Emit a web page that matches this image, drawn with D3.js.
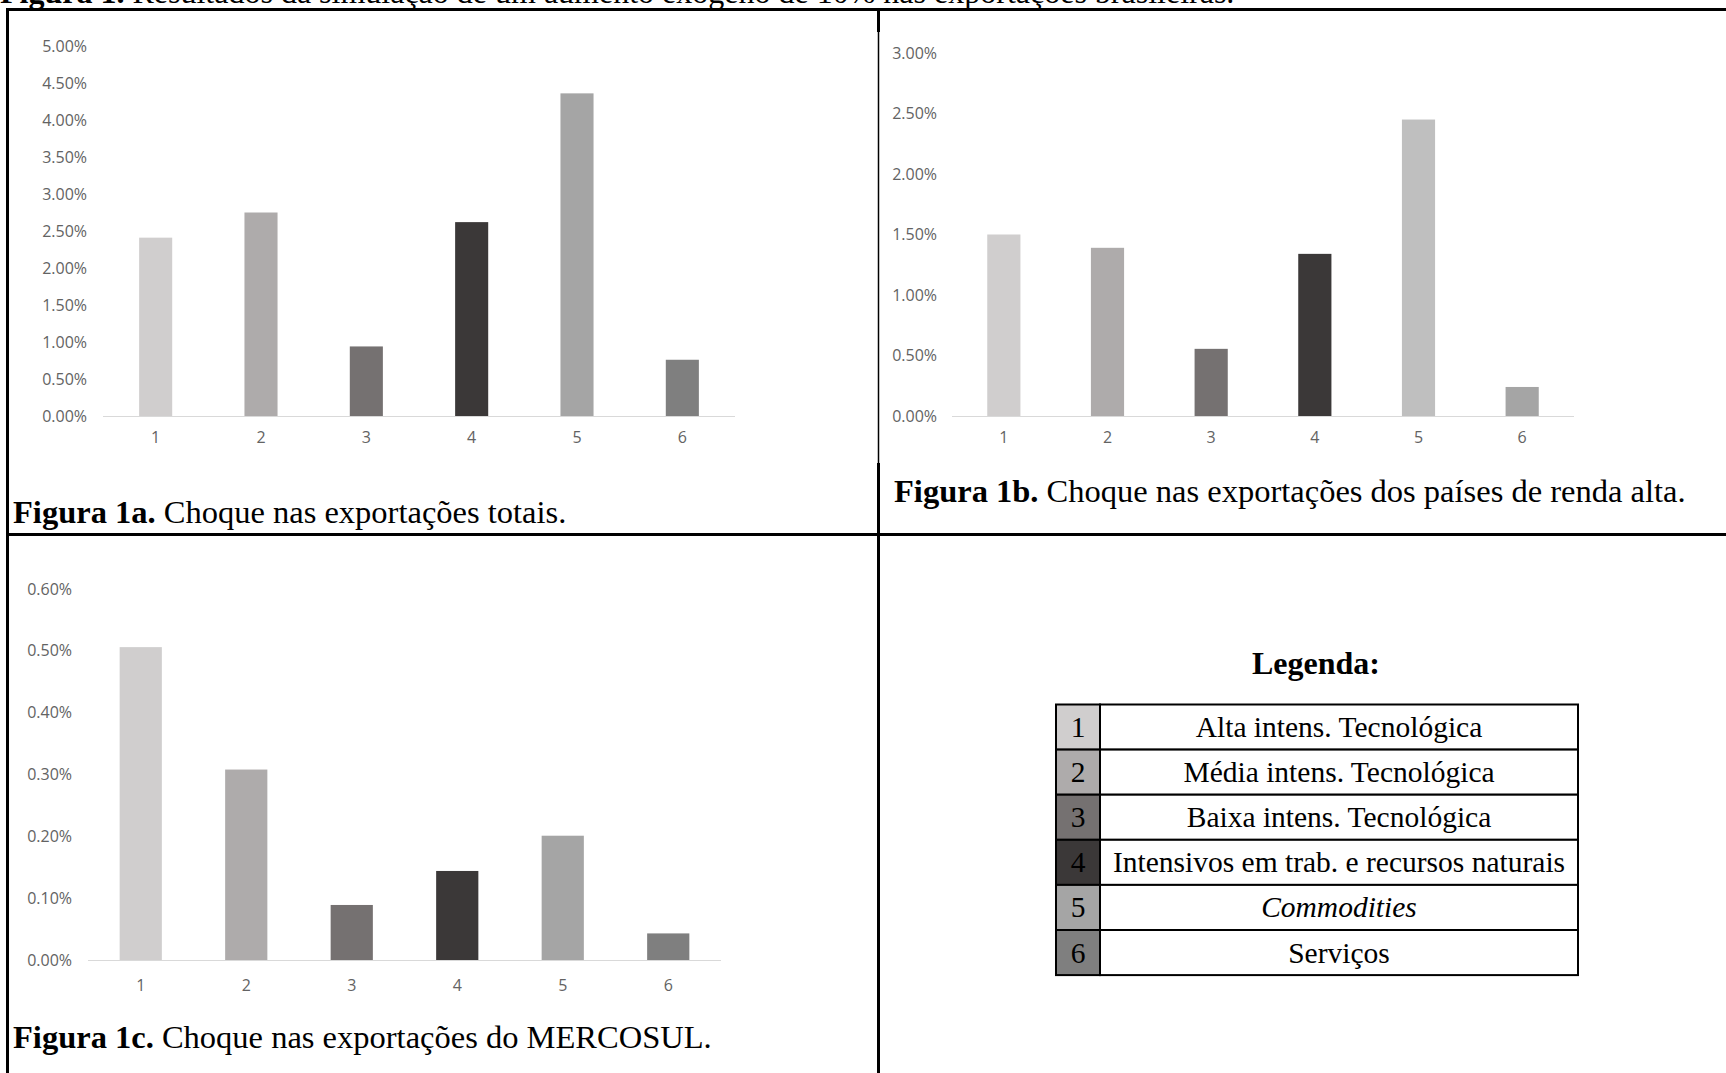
<!DOCTYPE html>
<html lang="pt">
<head>
    <meta charset="UTF-8">
    <script src="https://d3js.org/d3.v7.min.js"></script>
    <title>Figura 1</title>
    <style>
        body { margin: 0; background: #fff; }
        .tick line { display: none; }
        .domain { stroke: #d9d9d9; stroke-width: 1; }
        .tick text { font-family: "Open Sans", sans-serif; font-size: 16px; fill: #636363; }
        .serif { font-family: "Liberation Serif", "Times New Roman", serif; fill: #000; }
    </style>
</head>
<body>
    <div id="container"></div>
</body>
<script>
    // dados
    var categories = ["1", "2", "3", "4", "5", "6"];
    var totalShock = [2.41, 2.75, 0.94, 2.62, 4.36, 0.76];
    var highIncomeShock = [1.50, 1.39, 0.555, 1.34, 2.45, 0.24];
    var mercosulShock = [0.506, 0.308, 0.089, 0.144, 0.201, 0.043];

    var ticksA = [0, 0.5, 1, 1.5, 2, 2.5, 3, 3.5, 4, 4.5, 5];
    var ticksB = [0, 0.5, 1, 1.5, 2, 2.5, 3];
    var ticksC = [0, 0.1, 0.2, 0.3, 0.4, 0.5, 0.6];

    var colorsA = ["#d0cece", "#aeabab", "#757171", "#3b3838", "#a5a5a5", "#7f7f7f"];
    var colorsB = ["#d0cece", "#aeabab", "#757171", "#3b3838", "#bfbfbf", "#a5a5a5"];

    var legendLabels = ["Alta intens. Tecnológica", "Média intens. Tecnológica", "Baixa intens. Tecnológica",
                        "Intensivos em trab. e recursos naturais", "Commodities", "Serviços"];

    var W = 1726, H = 1073;
    var svg = d3.select("#container").append("svg")
        .attr("width", W).attr("height", H);

    // título (cortado no topo, como na figura original)
    var title = svg.append("text").attr("class", "serif")
        .attr("x", 0).attr("y", 3).style("font-size", "32px");
    title.append("tspan").style("font-weight", "bold").text("Figura 1. ");
    title.append("tspan").text("Resultados da simulação de um aumento exógeno de 10% nas exportações brasileiras.");

    // grade da tabela
    var lines = svg.append("g").attr("stroke", "#000");
    lines.append("line").attr("x1", 6).attr("x2", W).attr("y1", 9.5).attr("y2", 9.5).attr("stroke-width", 3);
    lines.append("line").attr("x1", 7.5).attr("x2", 7.5).attr("y1", 8).attr("y2", H).attr("stroke-width", 3);
    lines.append("line").attr("x1", 6).attr("x2", W).attr("y1", 534.5).attr("y2", 534.5).attr("stroke-width", 3);
    lines.append("line").attr("x1", 878.5).attr("x2", 878.5).attr("y1", 8).attr("y2", 32).attr("stroke-width", 3);
    lines.append("line").attr("x1", 878.5).attr("x2", 878.5).attr("y1", 32).attr("y2", 463).attr("stroke-width", 1.5);
    lines.append("line").attr("x1", 878.5).attr("x2", 878.5).attr("y1", 463).attr("y2", H).attr("stroke-width", 3);

    function drawChart(cfg) {
        var x = d3.scaleBand().domain(categories).range([cfg.x0, cfg.x1]).paddingInner(cfg.pad).paddingOuter(cfg.pad / 2);
        var y = d3.scaleLinear().domain([0, cfg.max]).range([cfg.base, cfg.top]);
        var g = svg.append("g");

        g.selectAll("rect").data(cfg.values).enter().append("rect")
            .attr("x", function(d, i) { return x(categories[i]); })
            .attr("width", x.bandwidth())
            .attr("y", function(d) { return y(d); })
            .attr("height", function(d) { return y(0) - y(d); })
            .attr("fill", function(d, i) { return cfg.colors[i]; });

        var xAxis = g.append("g").attr("transform", "translate(0," + (cfg.base + 0.5) + ")")
            .call(d3.axisBottom(x).tickSize(0).tickSizeOuter(0).tickPadding(cfg.xPad));
        xAxis.select(".domain").attr("d", "M" + cfg.x0 + ",0H" + cfg.x1);

        var yAxis = g.append("g").attr("transform", "translate(" + cfg.labelX + ",0)")
            .call(d3.axisLeft(y).tickValues(cfg.ticks).tickSize(0).tickPadding(0)
                .tickFormat(function(d) { return d.toFixed(2) + "%"; }));
        yAxis.select(".domain").remove();

        var cap = svg.append("text").attr("class", "serif")
            .attr("x", cfg.capX).attr("y", cfg.capY).style("font-size", "32.5px");
        cap.append("tspan").style("font-weight", "bold").text(cfg.capBold);
        cap.append("tspan").text(cfg.capText);
    }

    drawChart({ values: totalShock, colors: colorsA, ticks: ticksA, max: 5,
        x0: 103, x1: 735, base: 416, top: 46, pad: 0.686, labelX: 87, xPad: 15,
        capX: 13, capY: 523, capBold: "Figura 1a.", capText: " Choque nas exportações totais." });

    drawChart({ values: highIncomeShock, colors: colorsB, ticks: ticksB, max: 3,
        x0: 952, x1: 1574, base: 416, top: 53, pad: 0.68, labelX: 937, xPad: 15,
        capX: 894, capY: 502, capBold: "Figura 1b.", capText: " Choque nas exportações dos países de renda alta." });

    drawChart({ values: mercosulShock, colors: colorsA, ticks: ticksC, max: 0.6,
        x0: 88, x1: 721, base: 960, top: 589, pad: 0.6, labelX: 72, xPad: 19,
        capX: 13, capY: 1048, capBold: "Figura 1c.", capText: " Choque nas exportações do MERCOSUL." });

    // legenda
    svg.append("text").attr("class", "serif")
        .attr("x", 1316).attr("y", 674).attr("text-anchor", "middle")
        .style("font-size", "32px").style("font-weight", "bold").text("Legenda:");

    var legX0 = 1056, legX1 = 1100, legX2 = 1578, legTop = 704.5, rowH = 45.1;
    var rows = svg.append("g").selectAll("g").data(categories).enter().append("g")
        .attr("transform", function(d, i) { return "translate(0," + (legTop + i * rowH) + ")"; });

    rows.append("rect").attr("x", legX0).attr("width", legX1 - legX0).attr("height", rowH)
        .attr("fill", function(d, i) { return colorsA[i]; }).attr("stroke", "#000").attr("stroke-width", 2);
    rows.append("rect").attr("x", legX1).attr("width", legX2 - legX1).attr("height", rowH)
        .attr("fill", "#fff").attr("stroke", "#000").attr("stroke-width", 2);
    rows.append("text").attr("class", "serif")
        .attr("x", (legX0 + legX1) / 2).attr("y", rowH / 2 + 10).attr("text-anchor", "middle")
        .style("font-size", "29.5px").text(function(d) { return d; });
    rows.append("text").attr("class", "serif")
        .attr("x", (legX1 + legX2) / 2).attr("y", rowH / 2 + 10).attr("text-anchor", "middle")
        .style("font-size", "29.5px")
        .style("font-style", function(d, i) { return i === 4 ? "italic" : "normal"; })
        .text(function(d, i) { return legendLabels[i]; });
</script>
</html>
